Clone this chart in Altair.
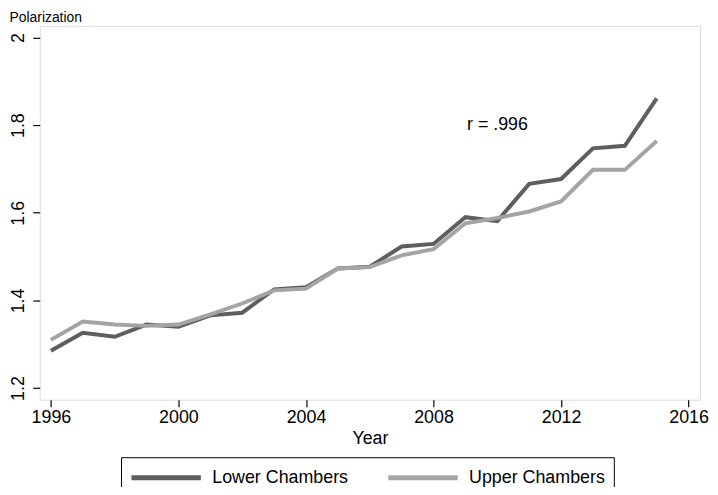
import altair as alt
import pandas as pd

years = list(range(1996, 2016))
lower = [1.285, 1.326, 1.317, 1.345, 1.340, 1.366, 1.372, 1.425, 1.430, 1.473,
         1.477, 1.523, 1.529, 1.590, 1.581, 1.666, 1.677, 1.747, 1.753, 1.861]
upper = [1.310, 1.352, 1.345, 1.342, 1.345, 1.368, 1.393, 1.423, 1.427, 1.473,
         1.476, 1.503, 1.517, 1.576, 1.588, 1.603, 1.626, 1.698, 1.698, 1.764]
series_names = ["Lower Chambers", "Upper Chambers"]
series_colors = ["#5e5e5e", "#a4a4a4"]
x_ticks = [1996, 2000, 2004, 2008, 2012, 2016]
y_ticks = [1.2, 1.4, 1.6, 1.8, 2.0]
note_text = ["r = .996"]
note_x = [2009.05]
note_y = [1.8]

rows = []
for name, vals in zip(series_names, [lower, upper]):
    for yr, v in zip(years, vals):
        rows.append({"Year": yr, "Polarization": v, "Series": name})
df = pd.DataFrame(rows)
note_df = pd.DataFrame({"x": note_x, "y": note_y, "t": note_text})

FONT = "Liberation Sans"

xscale = alt.Scale(domain=[1995.65, 2016.36], nice=False, zero=False)
yscale = alt.Scale(domain=[1.1735, 2.0265], nice=False, zero=False)

lines = alt.Chart(df).mark_line(strokeWidth=4, strokeCap="butt", strokeJoin="miter").encode(
    x=alt.X("Year:Q", scale=xscale,
            axis=alt.Axis(values=x_ticks, format="d", title="Year", grid=False,
                          domain=False, tickSize=7, tickColor="black", tickWidth=1.2,
                          labelFontSize=18, labelPadding=2, labelColor="black",
                          labelFont=FONT, titleFont=FONT, titleFontSize=18,
                          titleFontWeight="normal", titleColor="black", titlePadding=3,
                          labelFlush=False)),
    y=alt.Y("Polarization:Q", scale=yscale,
            axis=alt.Axis(values=y_ticks, format="~g", title="Polarization", grid=False,
                          domain=False, tickSize=7, tickColor="black", tickWidth=1.2,
                          labelFontSize=18, labelPadding=9, labelColor="black",
                          labelAngle=270, labelAlign="center", labelBaseline="alphabetic",
                          labelFont=FONT, titleFont=FONT, titleFontSize=14,
                          titleFontWeight="normal", titleColor="black", titleAngle=0,
                          titleAlign="left", titleBaseline="alphabetic",
                          titleX=-31, titleY=-4, labelFlush=False)),
    color=alt.Color("Series:N",
                    scale=alt.Scale(domain=series_names, range=series_colors),
                    legend=alt.Legend(title=None, orient="none", legendX=82, legendY=435,
                                      direction="horizontal", strokeColor="black",
                                      padding=8, symbolType="M-1,0H6",
                                      symbolSize=400, symbolStrokeWidth=5,
                                      labelFontSize=18, labelFont=FONT, labelColor="black",
                                      labelOffset=59, columnPadding=29)),
)

note = alt.Chart(note_df).mark_text(align="left", baseline="middle", fontSize=18,
                                    font=FONT, color="black").encode(
    x=alt.X("x:Q", scale=xscale),
    y=alt.Y("y:Q", scale=yscale),
    text="t:N",
)

chart = alt.layer(lines, note).properties(
    width=666, height=377,
    autosize=alt.AutoSizeParams(type="none"),
    padding={"left": 32, "top": 16, "right": 10, "bottom": 86},
).configure_view(stroke="black", strokeWidth=1.3).configure(background="white")

chart.save("out.html", embed_options={"renderer": "svg", "actions": False})
